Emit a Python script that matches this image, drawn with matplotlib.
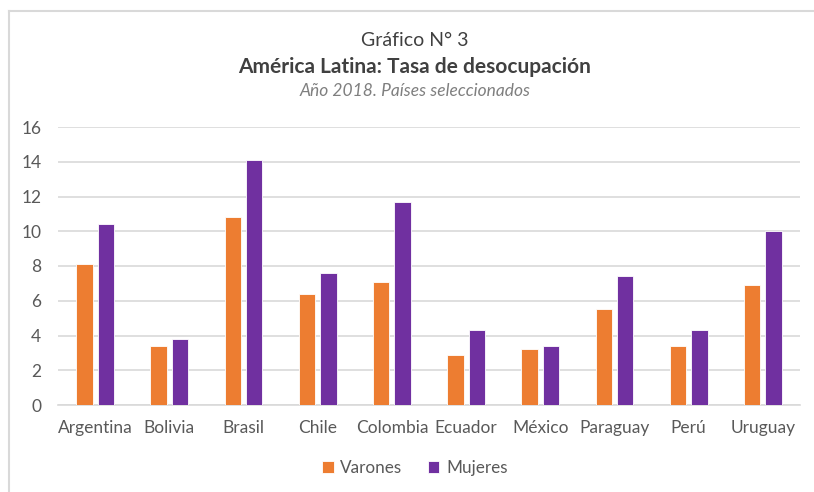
import matplotlib.pyplot as plt
import numpy as np
from matplotlib.lines import Line2D

# datos del gráfico
paises = ["Argentina", "Bolivia", "Brasil", "Chile", "Colombia",
          "Ecuador", "México", "Paraguay", "Perú", "Uruguay"]
varones = [8.1, 3.4, 10.8, 6.4, 7.1, 2.9, 3.2, 5.5, 3.4, 6.9]
mujeres = [10.4, 3.8, 14.1, 7.6, 11.7, 4.3, 3.4, 7.4, 4.3, 10.0]
yticks = [0, 2, 4, 6, 8, 10, 12, 14, 16]

plt.rcParams['font.family'] = ['Lato', 'DejaVu Sans']

W, H = 814, 492
fig = plt.figure(figsize=(W / 100, H / 100), dpi=100)
ax = fig.add_axes([58 / W, 1 - 405 / H, (800 - 58) / W, (405 - 127) / H])

x = np.arange(len(paises))
ancho = 0.22
sep = 0.29
ax.bar(x - sep / 2, varones, ancho, color='#ED7D31', edgecolor='white',
       linewidth=0.6, label='Varones', zorder=3)
ax.bar(x + sep / 2, mujeres, ancho, color='#7030A0', edgecolor='white',
       linewidth=0.6, label='Mujeres', zorder=3)

ax.set_xlim(-0.5, len(paises) - 0.5)
ax.set_ylim(0, 16)
ax.set_yticks(yticks)
ax.set_xticks(x)
ax.set_xticklabels(paises)
ax.tick_params(axis='both', length=0, labelsize=12.5, colors='#595959')
ax.tick_params(axis='x', pad=11)
ax.tick_params(axis='y', pad=12)
ax.grid(axis='y', color='#D9D9D9', linewidth=1.2, zorder=0)
for s in ['top', 'right', 'left']:
    ax.spines[s].set_visible(False)
ax.spines['bottom'].set_color('#D9D9D9')
ax.spines['bottom'].set_linewidth(1.2)

# títulos
fig.text(415 / W, 1 - 40 / H, "Gráfico N° 3", ha='center', va='center',
         fontsize=14, color='#404040')
fig.text(415 / W, 1 - 67 / H, "América Latina: Tasa de desocupación",
         ha='center', va='center', fontsize=15, fontweight='bold', color='#404040')
fig.text(415 / W, 1 - 91 / H, "Año 2018. Países seleccionados", ha='center',
         va='center', fontsize=12.5, style='italic', color='#7F7F7F')

# leyenda
fig.legend(loc='center', bbox_to_anchor=(415 / W, 1 - 468 / H), ncol=2,
           frameon=False, fontsize=12.3, labelcolor='#595959',
           handlelength=0.65, handleheight=0.65, handletextpad=0.4,
           columnspacing=1.5)

# marco del gráfico
fig.add_artist(Line2D([8.5 / W, 1], [1 - 11 / H, 1 - 11 / H],
                      transform=fig.transFigure, color='#D9D9D9', linewidth=1.5))
fig.add_artist(Line2D([8.5 / W, 8.5 / W], [0, 1 - 11 / H],
                      transform=fig.transFigure, color='#D9D9D9', linewidth=1.5))

fig.savefig('out.png', dpi=100)
